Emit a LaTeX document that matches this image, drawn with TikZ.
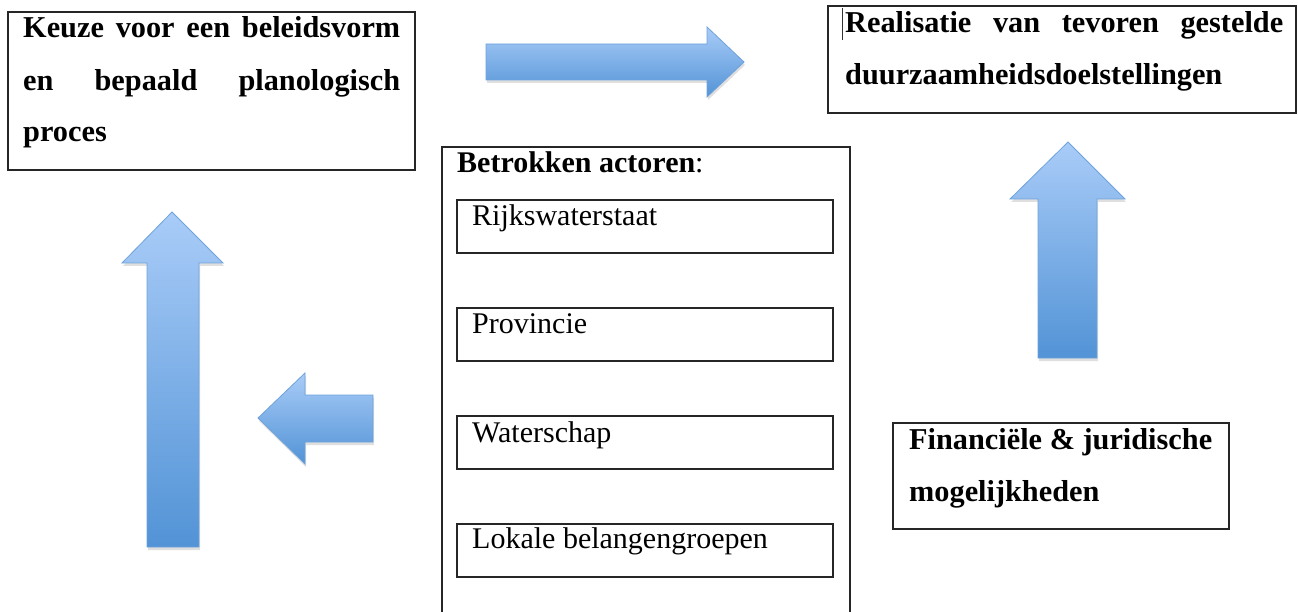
\documentclass[tikz,border=0pt]{standalone}
\usepackage{fontspec}
\setmainfont{Liberation Serif}
\usetikzlibrary{shadows}
\definecolor{arrowlight}{HTML}{A9CCF8}
\definecolor{arrowdark}{HTML}{5293D6}
\definecolor{arrowedge}{HTML}{6FA2DA}
\tikzset{
  blockarrow/.style={top color=arrowlight, bottom color=arrowdark, draw=arrowedge,
    line width=0.8pt, line join=miter,
    drop shadow={opacity=0.25, shadow xshift=1pt, shadow yshift=-3pt}},
  framebox/.style={draw=black!85, line width=2pt, inner sep=0pt, outer sep=0pt, anchor=north west},
  innerbox/.style={draw=black!85, line width=1.6pt, inner sep=0pt, outer sep=0pt, anchor=north west,
    minimum width=376pt, minimum height=53pt},
  boldtxt/.style={anchor=base west, inner sep=0pt, font=\fontsize{30.3}{36}\selectfont\bfseries},
  plaintxt/.style={anchor=base west, inner sep=0pt, font=\fontsize{30}{36}\selectfont},
}
\begin{document}
\begin{tikzpicture}[x=1pt, y=-1pt]
\useasboundingbox (0,0) rectangle (1298,612);

% boxes
\node[framebox, minimum width=407pt, minimum height=158pt] (keuze) at (8,12) {};
\node[framebox, minimum width=468pt, minimum height=107pt] (realisatie) at (828,6) {};
\node[framebox, minimum width=408pt, minimum height=520pt] (actoren) at (442,147) {};
\node[framebox, minimum width=336pt, minimum height=106pt] (financieel) at (893,423) {};
\node[innerbox] (rws) at (457,200) {};
\node[innerbox] (prov) at (457,308) {};
\node[innerbox] (ws) at (457,416) {};
\node[innerbox] (lok) at (457,524) {};

% texts
\node[boldtxt] (k1) at (23,38) {\hbox to 377pt{Keuze\hfill voor\hfill een\hfill beleidsvorm}};
\node[boldtxt] (k2) at (23,91) {\hbox to 377pt{en\hfill bepaald\hfill planologisch}};
\node[boldtxt] (k3) at (23,142) {proces};

\node[boldtxt] (r1) at (845,33) {\hbox to 438pt{Realisatie\hfill van\hfill tevoren\hfill gestelde}};
\node[boldtxt] (r2) at (845,85) {duurzaamheidsdoelstellingen};
\coordinate (cursortop) at (842,8);
\coordinate (cursorbot) at (842,40);
\draw[line width=1pt, black!80] (cursortop) -- (cursorbot);

\node[plaintxt] (b1) at (457,173) {\textbf{Betrokken actoren}:};
\node[plaintxt] (rwst) at (472,226) {Rijkswaterstaat};
\node[plaintxt] (provt) at (472,333) {Provincie};
\node[plaintxt] (wst) at (472,442) {Waterschap};
\node[plaintxt] (lokt) at (472,548) {Lokale belangengroepen};

\node[boldtxt] (f1) at (909,449) {Financiële \& juridische};
\node[boldtxt] (f2) at (909,501) {mogelijkheden};

% block arrows
\path[blockarrow] (486,44) -- (707,44) -- (707,27) -- (744,62) -- (707,97) -- (707,80) -- (486,80) -- cycle;
\path[blockarrow] (1068,142) -- (1125,199) -- (1097,199) -- (1097,358) -- (1038,358) -- (1038,199) -- (1010,199) -- cycle;
\path[blockarrow] (172,212) -- (223,263) -- (199,263) -- (199,547) -- (147,547) -- (147,263) -- (122,263) -- cycle;
\path[blockarrow] (258,418) -- (305,373) -- (305,395) -- (373,395) -- (373,442) -- (305,442) -- (305,464) -- cycle;
\end{tikzpicture}
\end{document}
